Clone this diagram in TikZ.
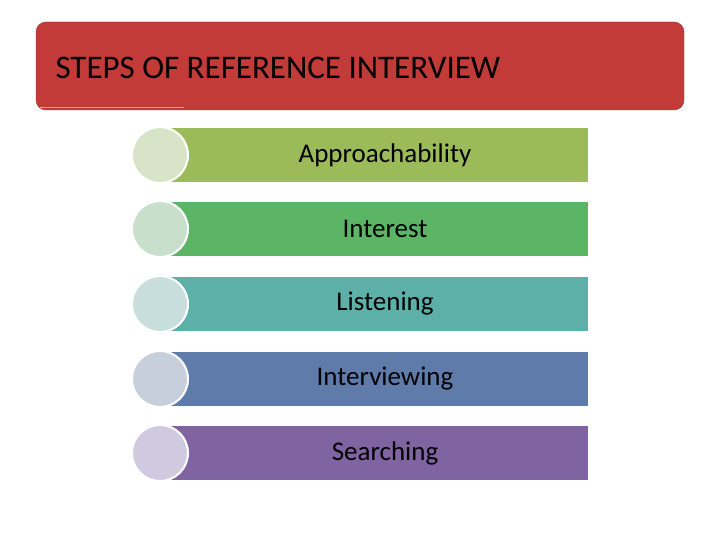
\documentclass[tikz,border=0pt]{standalone}
\usepackage{fontspec}
\setmainfont{Carlito}
\usetikzlibrary{positioning}

\definecolor{titlered}{HTML}{C33B38}
\definecolor{barA}{HTML}{9BBB59}
\definecolor{barB}{HTML}{5BB565}
\definecolor{barC}{HTML}{5DB0A8}
\definecolor{barD}{HTML}{5F7BAA}
\definecolor{barE}{HTML}{8064A2}
\definecolor{dotA}{HTML}{D7E4C8}
\definecolor{dotB}{HTML}{C8DFCB}
\definecolor{dotC}{HTML}{C8DEDD}
\definecolor{dotD}{HTML}{C7CEDC}
\definecolor{dotE}{HTML}{CFCAE0}

\begin{document}
\begin{tikzpicture}[
        x=1pt, y=-1pt,
        titlebox/.style = {draw=titlered!80!black, fill=titlered, rounded corners=10pt,
                           minimum width=648pt, minimum height=88pt, inner sep=0pt},
        bar/.style = {minimum width=428pt, minimum height=54pt, inner sep=0pt,
                      font=\fontsize{27}{30}\selectfont},
        dot/.style = {circle, draw=white, line width=2pt, minimum size=56pt, inner sep=0pt}]

    \useasboundingbox (0,0) rectangle (720,540);

    \node[titlebox] (title) at (360,66) {};
    \node[anchor=west, font=\fontsize{33}{36}\selectfont] (ttext) at (52,68) {STEPS OF REFERENCE INTERVIEW};
    \draw[gray!60, thin] (40,107) -- (184,107);

    \foreach \name/\y/\c/\d/\txt in {a/155/barA/dotA/Approachability,
                                    b/229/barB/dotB/Interest,
                                    c/304/barC/dotC/Listening,
                                    d/379/barD/dotD/Interviewing,
                                    e/453/barE/dotE/Searching}
        {
            \node[bar, fill=\c, anchor=west] (bar\name) at (160,\y) {};
            \node[anchor=center, font=\fontsize{27}{30}\selectfont] (lbl\name) at (385,\y) {\txt};
            \node[dot, fill=\d] (dot\name) at (160,\y) {};
        }

\end{tikzpicture}
\end{document}
